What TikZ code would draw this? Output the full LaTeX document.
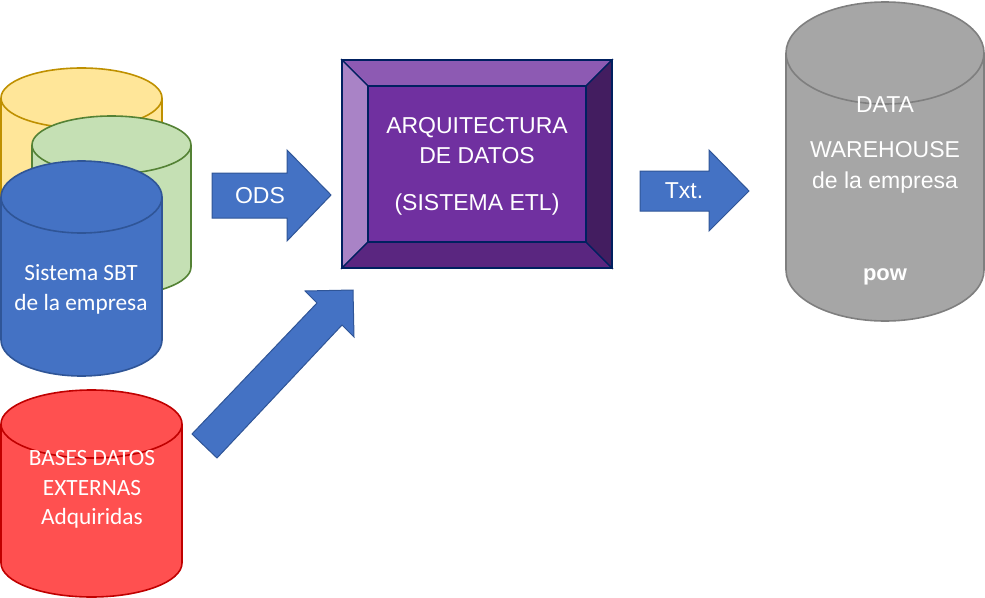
\documentclass[tikz,border=0pt]{standalone}
\usepackage{fontspec}
\setmainfont{Liberation Sans}
\newfontfamily\calfont{Carlito}
\definecolor{cyYel}{HTML}{FFE699}\definecolor{edYel}{HTML}{BF9000}
\definecolor{cyGrn}{HTML}{C5E0B4}\definecolor{edGrn}{HTML}{548235}
\definecolor{cyBlu}{HTML}{4472C4}\definecolor{edBlu}{HTML}{2F5597}
\definecolor{cyRed}{HTML}{FF5050}\definecolor{edRed}{HTML}{C00000}
\definecolor{cyGry}{HTML}{A6A6A6}\definecolor{edGry}{HTML}{7F7F7F}
\definecolor{pMid}{HTML}{7030A0}\definecolor{pTop}{HTML}{8D5AB3}
\definecolor{pLft}{HTML}{A983C6}\definecolor{pBot}{HTML}{5A2680}
\definecolor{pRgt}{HTML}{431D60}\definecolor{pEdg}{HTML}{002060}
% #1 style, #2 x0, #3 x1, #4 y centre of top ellipse, #5 y centre of bottom ellipse, #6 ry
\newcommand{\dbcyl}[6]{%
  \pgfmathsetmacro{\cxm}{(#2+#3)/2}%
  \pgfmathsetmacro{\krx}{0.5523*(#3-#2)/2}%
  \pgfmathsetmacro{\kry}{0.5523*#6}%
  \pgfmathsetmacro{\yt}{#4-#6}\pgfmathsetmacro{\yu}{#4+#6}\pgfmathsetmacro{\yb}{#5+#6}%
  \draw[#1] (#2,#4) .. controls (#2,#4-\kry) and (\cxm-\krx,\yt) .. (\cxm,\yt)
    .. controls (\cxm+\krx,\yt) and (#3,#4-\kry) .. (#3,#4)
    -- (#3,#5) .. controls (#3,#5+\kry) and (\cxm+\krx,\yb) .. (\cxm,\yb)
    .. controls (\cxm-\krx,\yb) and (#2,#5+\kry) .. (#2,#5) -- cycle;
  \draw[#1,fill=none] (#2,#4) .. controls (#2,#4+\kry) and (\cxm-\krx,\yu) .. (\cxm,\yu)
    .. controls (\cxm+\krx,\yu) and (#3,#4+\kry) .. (#3,#4);
}
\tikzset{
  x=1pt,y=-1pt,
  cylY/.style={fill=cyYel,draw=edYel,line width=1.6pt},
  cylG/.style={fill=cyGrn,draw=edGrn,line width=1.6pt},
  cylB/.style={fill=cyBlu,draw=edBlu,line width=1.6pt},
  cylR/.style={fill=cyRed,draw=edRed,line width=1.6pt},
  cylK/.style={fill=cyGry,draw=edGry,line width=1.6pt},
  blockarrow/.style={fill=cyBlu,draw=edBlu,line width=1pt,line join=miter},
  bevel/.style={draw=pEdg,line width=1.4pt,line join=miter},
  lab/.style={anchor=base,inner sep=0pt,text=white,font=\fontsize{23}{27}\selectfont},
  labc/.style={anchor=base,inner sep=0pt,text=white,font=\calfont\fontsize{23.3}{27}\selectfont},
}
\begin{document}
\begin{tikzpicture}
\useasboundingbox (0,0) rectangle (985,597);
% source cylinders
\dbcyl{cylY}{1}{162}{98}{260}{30}
\dbcyl{cylG}{32}{191}{145}{267}{29}
\dbcyl{cylB}{1}{162}{197}{340}{36}
\dbcyl{cylR}{1}{182}{424}{563}{34}
\dbcyl{cylK}{786}{984}{53}{270}{51}
% block arrows
\draw[blockarrow] (212,173) -- (287,173) -- (287,150) -- (331,195) -- (287,241) -- (287,218) -- (212,218) -- cycle;
\draw[blockarrow] (640,171) -- (709,171) -- (709,150) -- (749,191) -- (709,231) -- (709,211) -- (640,211) -- cycle;
\draw[blockarrow] (192,434) -- (317,303) -- (305,291) -- (353,290) -- (354,337) -- (342,325) -- (217,458) -- cycle;
% bevel box
\draw[bevel,fill=pTop] (342,60) -- (612,60) -- (586,86) -- (368,86) -- cycle;
\draw[bevel,fill=pLft] (342,60) -- (368,86) -- (368,242) -- (342,268) -- cycle;
\draw[bevel,fill=pBot] (342,268) -- (368,242) -- (586,242) -- (612,268) -- cycle;
\draw[bevel,fill=pRgt] (612,60) -- (586,86) -- (586,242) -- (612,268) -- cycle;
\draw[bevel,fill=pMid] (368,86) rectangle (586,242);
\draw[bevel] (342,60) rectangle (612,268);
% labels
\node[labc] (sbtA) at (81,280) {Sistema SBT};
\node[labc] (sbtB) at (81,310) {de la empresa};
\node[labc] (extA) at (92,465) {BASES DATOS};
\node[labc] (extB) at (92,495) {EXTERNAS};
\node[labc] (extC) at (92,524) {Adquiridas};
\node[lab] (ods) at (260,203) {ODS};
\node[lab] (txt) at (684,198) {Txt.};
\node[lab] (etlA) at (477,133) {ARQUITECTURA};
\node[lab] (etlB) at (477,163) {DE DATOS};
\node[lab] (etlC) at (477,210) {(SISTEMA ETL)};
\node[lab] (dwA) at (885,112) {DATA};
\node[lab] (dwB) at (885,157) {WAREHOUSE};
\node[lab] (dwC) at (885,188) {de la empresa};
\node[lab,font=\bfseries\fontsize{22}{25}\selectfont] (pow) at (885,280) {pow};
\end{tikzpicture}
\end{document}
